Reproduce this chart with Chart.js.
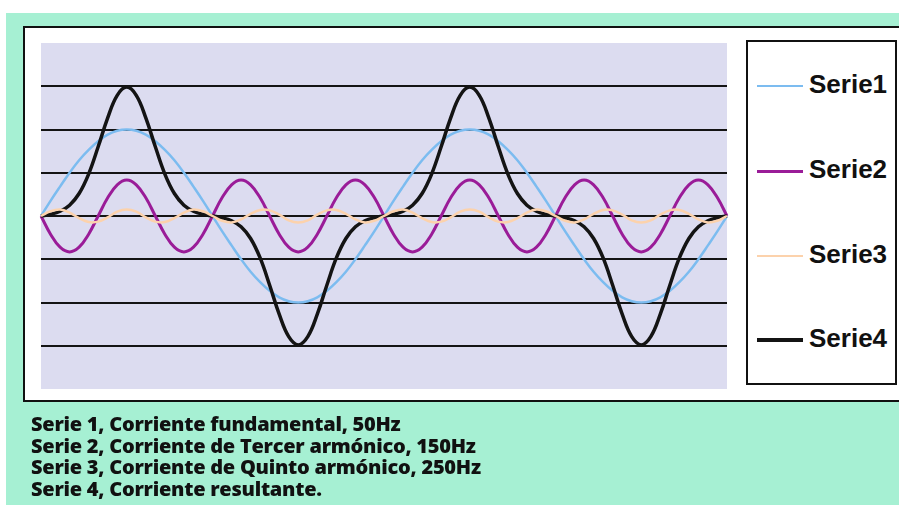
<!DOCTYPE html>
<html>
<head>
<meta charset="utf-8">
<script src="https://cdn.jsdelivr.net/npm/chart.js@4"></script>
<style>
    html, body { margin: 0; padding: 0; }
    body {
        width: 899px;
        height: 505px;
        position: relative;
        overflow: hidden;
        background: #ffffff;
    }
    #green {
        position: absolute;
        left: 6px;
        top: 13px;
        right: 0;
        bottom: 0;
        background: #a6f0d3;
    }
    #frame {
        position: absolute;
        left: 23px;
        top: 26px;
        width: 900px;
        height: 372px;
        background: #ffffff;
        border: 2px solid #111;
    }
    #chartWrap {
        position: absolute;
        left: 0;
        top: 0;
        width: 899px;
        height: 505px;
    }
    #legend {
        position: absolute;
        left: 746px;
        top: 40px;
        width: 147px;
        height: 341px;
        border: 2px solid #111;
        background: #ffffff;
    }
    .legendItem {
        position: absolute;
        left: 0;
        font-family: "Liberation Sans", Arial, sans-serif;
        font-weight: bold;
        font-size: 26px;
        line-height: 26px;
        color: #111;
        white-space: nowrap;
    }
    .legendItem .swatch {
        position: absolute;
        left: 9px;
        width: 46px;
    }
    .legendItem .label {
        position: absolute;
        left: 61px;
        top: 0;
    }
    #notes {
        position: absolute;
        left: 31px;
        top: 413px;
        font-family: "Open Sans", sans-serif;
        font-weight: 800;
        font-size: 20px;
        line-height: 21.7px;
        letter-spacing: -0.25px;
        color: #111;
        white-space: nowrap;
    }
</style>
</head>
<body>
<div id="green"></div>
<div id="frame"></div>
<div id="chartWrap"><canvas id="chart" width="899" height="505"></canvas></div>
<div id="legend"></div>
<div id="notes"></div>

<script>
// phase angle in degrees, two cycles of the 50Hz fundamental
const angles = [
    0, 10, 20, 30, 40, 50, 60, 70, 80, 90, 100, 110, 120, 130, 140, 150, 160, 170,
    180, 190, 200, 210, 220, 230, 240, 250, 260, 270, 280, 290, 300, 310, 320, 330, 340, 350,
    360, 370, 380, 390, 400, 410, 420, 430, 440, 450, 460, 470, 480, 490, 500, 510, 520, 530,
    540, 550, 560, 570, 580, 590, 600, 610, 620, 630, 640, 650, 660, 670, 680, 690, 700, 710, 720,
]

const serie1 = [
    0, 0.35, 0.68, 1.0, 1.29, 1.53, 1.73, 1.88, 1.97, 2.0, 1.97, 1.88, 1.73, 1.53, 1.29, 1.0, 0.68, 0.35,
    0, -0.35, -0.68, -1.0, -1.29, -1.53, -1.73, -1.88, -1.97, -2.0, -1.97, -1.88, -1.73, -1.53, -1.29, -1.0, -0.68, -0.35,
    0, 0.35, 0.68, 1.0, 1.29, 1.53, 1.73, 1.88, 1.97, 2.0, 1.97, 1.88, 1.73, 1.53, 1.29, 1.0, 0.68, 0.35,
    0, -0.35, -0.68, -1.0, -1.29, -1.53, -1.73, -1.88, -1.97, -2.0, -1.97, -1.88, -1.73, -1.53, -1.29, -1.0, -0.68, -0.35, 0,
]

const serie2 = [
    0, -0.42, -0.72, -0.83, -0.72, -0.42, 0, 0.42, 0.72, 0.83, 0.72, 0.42, 0, -0.42, -0.72, -0.83, -0.72, -0.42,
    0, 0.42, 0.72, 0.83, 0.72, 0.42, 0, -0.42, -0.72, -0.83, -0.72, -0.42, 0, 0.42, 0.72, 0.83, 0.72, 0.42,
    0, -0.42, -0.72, -0.83, -0.72, -0.42, 0, 0.42, 0.72, 0.83, 0.72, 0.42, 0, -0.42, -0.72, -0.83, -0.72, -0.42,
    0, 0.42, 0.72, 0.83, 0.72, 0.42, 0, -0.42, -0.72, -0.83, -0.72, -0.42, 0, 0.42, 0.72, 0.83, 0.72, 0.42, 0,
]

const serie3 = [
    0, 0.11, 0.15, 0.08, -0.05, -0.14, -0.13, -0.03, 0.1, 0.15, 0.1, -0.03, -0.13, -0.14, -0.05, 0.08, 0.15, 0.11,
    0, -0.11, -0.15, -0.08, 0.05, 0.14, 0.13, 0.03, -0.1, -0.15, -0.1, 0.03, 0.13, 0.14, 0.05, -0.08, -0.15, -0.11,
    0, 0.11, 0.15, 0.08, -0.05, -0.14, -0.13, -0.03, 0.1, 0.15, 0.1, -0.03, -0.13, -0.14, -0.05, 0.08, 0.15, 0.11,
    0, -0.11, -0.15, -0.08, 0.05, 0.14, 0.13, 0.03, -0.1, -0.15, -0.1, 0.03, 0.13, 0.14, 0.05, -0.08, -0.15, -0.11, 0,
]

const serie4 = [
    0, 0.04, 0.11, 0.25, 0.52, 0.97, 1.6, 2.27, 2.79, 2.98, 2.79, 2.27, 1.6, 0.97, 0.52, 0.25, 0.11, 0.04,
    0, -0.04, -0.11, -0.25, -0.52, -0.97, -1.6, -2.27, -2.79, -2.98, -2.79, -2.27, -1.6, -0.97, -0.52, -0.25, -0.11, -0.04,
    0, 0.04, 0.11, 0.25, 0.52, 0.97, 1.6, 2.27, 2.79, 2.98, 2.79, 2.27, 1.6, 0.97, 0.52, 0.25, 0.11, 0.04,
    0, -0.04, -0.11, -0.25, -0.52, -0.97, -1.6, -2.27, -2.79, -2.98, -2.79, -2.27, -1.6, -0.97, -0.52, -0.25, -0.11, -0.04, 0,
]

const seriesNames = ["Serie1", "Serie2", "Serie3", "Serie4"]

const notes = [
    "Serie 1, Corriente fundamental, 50Hz",
    "Serie 2, Corriente de Tercer armónico, 150Hz",
    "Serie 3, Corriente de Quinto armónico, 250Hz",
    "Serie 4, Corriente resultante.",
]

const yMin = -4
const yMax = 4

const plotBackground = {
    id: "plotBackground",
    beforeDraw: (chart) => {
        const { ctx, chartArea } = chart
        ctx.save()
        ctx.fillStyle = "#dcdcf0"
        ctx.fillRect(chartArea.left, chartArea.top, chartArea.right - chartArea.left, chartArea.bottom - chartArea.top)
        ctx.restore()
    },
}

const makeDataset = (label, data, color, width, order) => {
    return {
        label: label,
        data: data,
        borderColor: color,
        backgroundColor: color,
        borderWidth: width,
        pointRadius: 0,
        tension: 0.4,
        fill: false,
        order: order,
    }
}

const chart = new Chart(document.getElementById("chart"), {
    type: "line",
    data: {
        labels: angles,
        datasets: [
            makeDataset(seriesNames[0], serie1, "#7cbcf0", 2.5, 3),
            makeDataset(seriesNames[1], serie2, "#9a1c98", 3, 2),
            makeDataset(seriesNames[2], serie3, "#fcd2ac", 2.5, 0),
            makeDataset(seriesNames[3], serie4, "#141414", 3.5, 1),
        ],
    },
    options: {
        responsive: false,
        animation: false,
        layout: {
            padding: { left: 41, top: 43, right: 172, bottom: 116 },
        },
        plugins: {
            legend: { display: false },
            tooltip: { enabled: false },
        },
        scales: {
            x: {
                type: "category",
                offset: false,
                display: false,
            },
            y: {
                min: yMin,
                max: yMax,
                ticks: { display: false, stepSize: 1 },
                border: { display: false },
                grid: {
                    drawTicks: false,
                    lineWidth: 2,
                    color: (ctx) => {
                        const v = ctx.tick && ctx.tick.value
                        return v === yMin || v === yMax ? "rgba(0,0,0,0)" : "#141414"
                    },
                },
            },
        },
    },
    plugins: [plotBackground],
})

// legend box built from the chart datasets
const legendEl = document.getElementById("legend")
const legendTops = [29, 114, 199, 283]
chart.data.datasets.forEach((ds, i) => {
    const item = document.createElement("div")
    item.className = "legendItem"
    item.style.top = legendTops[i] + "px"
    const swatch = document.createElement("div")
    swatch.className = "swatch"
    swatch.style.top = (15 - ds.borderWidth / 2) + "px"
    swatch.style.height = ds.borderWidth + "px"
    swatch.style.background = ds.borderColor
    const label = document.createElement("div")
    label.className = "label"
    label.textContent = ds.label
    item.appendChild(swatch)
    item.appendChild(label)
    legendEl.appendChild(item)
})

document.getElementById("notes").innerHTML = notes.map((n) => `<div>${n}</div>`).join("")
</script>
</body>
</html>
